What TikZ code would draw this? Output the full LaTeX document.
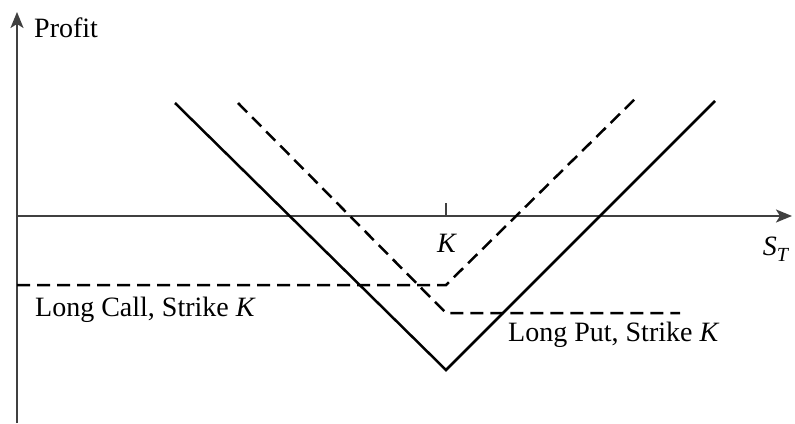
\documentclass[tikz,border=0pt]{standalone}
\usepackage{fontspec}
\setmainfont{Liberation Serif}
\usetikzlibrary{arrows.meta}
\begin{document}
\begin{tikzpicture}[x=1pt,y=-1pt,
  axisline/.style={line width=2pt, draw=black!75},
  axisarrow/.style={axisline, arrows={-Stealth[length=16pt,width=13pt,inset=4pt]}},
  payoff/.style={line width=2.5pt, line join=miter},
  payoffdash/.style={payoff, dash pattern=on 13pt off 7pt},
  lbl/.style={font=\fontsize{28}{32}\selectfont, inner sep=0pt}]
\useasboundingbox (0,0) rectangle (795,423);
% axes
\coordinate (ybot) at (17,423);
\coordinate (ytop) at (17,12);
\coordinate (xstart) at (17,216);
\coordinate (xend) at (792,216);
\draw[axisarrow] (ybot) -- (ytop);
\draw[axisarrow] (xstart) -- (xend);
% strike tick
\coordinate (Ktop) at (446,203);
\coordinate (Kbase) at (446,216);
\draw[axisline] (Kbase) -- (Ktop);
% labels
\node[lbl, anchor=west] (profit) at (34,28) {Profit};
\node[lbl] (Klab) at (447,243) {\textit{K}};
\node[lbl] (ST) at (776,249) {\textit{S}\raisebox{-0.45ex}{\fontsize{20}{22}\selectfont\textit{T}}};
\node[lbl, anchor=west] (calllab) at (35,310) {Long Call, Strike \textit{K}};
\node[lbl, anchor=west] (putlab) at (508,335) {Long Put, Strike \textit{K}};
% long call
\coordinate (c0) at (17,285);
\coordinate (c1) at (446,285);
\coordinate (c2) at (637,97);
\draw[payoffdash] (c0) -- (c1) -- (c2);
% long put
\coordinate (p0) at (238,103);
\coordinate (p1) at (446,313);
\coordinate (p2) at (680,313);
\draw[payoffdash] (p0) -- (p1) -- (p2);
% straddle
\coordinate (s0) at (175,103);
\coordinate (s1) at (446,370);
\coordinate (s2) at (715,101);
\draw[payoff] (s0) -- (s1) -- (s2);
\end{tikzpicture}
\end{document}
